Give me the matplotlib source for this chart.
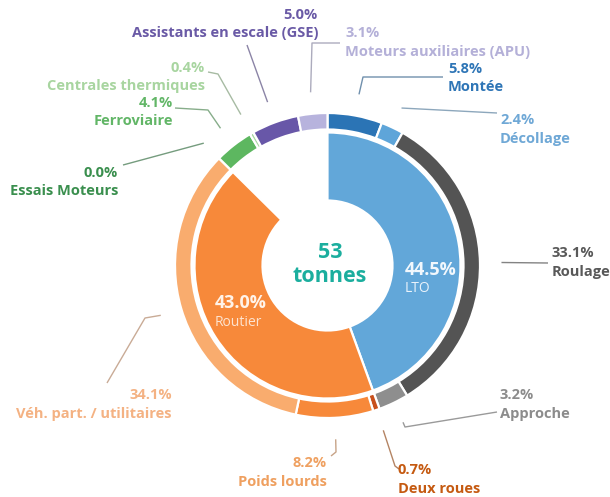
import matplotlib
matplotlib.use("Agg")
import matplotlib.pyplot as plt
import matplotlib.colors as mcolors
import numpy as np

# ---------------- data ----------------
inner_labels = ["LTO", "Routier", ""]
inner_values = [44.5, 43.0, 12.6]

outer_labels = ["Montée", "Décollage", "Roulage", "Approche",
                "Deux roues", "Poids lourds", "Véh. part. / utilitaires",
                "Essais Moteurs", "Ferroviaire", "Centrales thermiques",
                "Assistants en escale (GSE)", "Moteurs auxiliaires (APU)"]
outer_values = [5.8, 2.4, 33.1, 3.2, 0.7, 8.2, 34.1, 0.0, 4.1, 0.4, 5.0, 3.1]
total_text = ["53", "tonnes"]

# ---------------- styles ----------------
inner_colors = ["#62A7D9", "#F7893A", "none"]
outer_colors = ["#2B74B5", "#5EA5D9", "#545454", "#8E8E8E", "#C8501C", "#F7893A",
                "#F9AC6E", "#2E8B45", "#5DB760", "#A9D9A3", "#6857A8", "#B7B3DD"]
label_colors = ["#2E75B6", "#6FA8D6", "#595959", "#8C8C8C", "#C55A11", "#EFA060",
                "#F4B283", "#3A8F4E", "#62B667", "#A8D5A0", "#6A5AA6", "#B4B0D8"]

W, H = 610, 497
FONT = ["Open Sans", "DejaVu Sans"]
plt.rcParams["font.family"] = FONT

fig = plt.figure(figsize=(W / 100, H / 100), dpi=100)
ax = fig.add_axes([0, 0, 1, 1])
ax.set_xlim(0, W)
ax.set_ylim(0, H)
ax.set_aspect("equal")
ax.axis("off")


def P(x, y):
    return (x, H - y)


def blend(c, g="#A6A6A6", t=0.45):
    a = np.array(mcolors.to_rgb(c))
    b = np.array(mcolors.to_rgb(g))
    return tuple(a * t + b * (1 - t))


cx, cy = P(327.5, 265.5)
R_out = 152.5
w_out = 16.5
R_in = 133
w_in = 68

wo, _ = ax.pie(outer_values, colors=outer_colors, startangle=90, counterclock=False,
               radius=R_out, center=(cx, cy),
               wedgeprops=dict(width=w_out, edgecolor="white", linewidth=1.6))
wi, _ = ax.pie(inner_values, colors=inner_colors, startangle=90, counterclock=False,
               radius=R_in, center=(cx, cy),
               wedgeprops=dict(width=w_in, edgecolor="white", linewidth=1.6))
wi[2].set_edgecolor("none")
ax.set_xlim(0, W)
ax.set_ylim(0, H)

# leader layout: (elbow points in px, label anchor x, pct y, name y, ha)
layout = [
    ([(363, 77), (443, 77)], 448, 69, 87, "left"),          # Montée
    ([(497, 113)], 500, 120, 139, "left"),                  # Décollage
    ([(548, 263)], 552, 253, 272, "left"),                  # Roulage
    ([(405, 427), (497, 412)], 500, 395, 414, "left"),      # Approche
    ([(395, 466), (399, 469)], 398, 470, 489, "left"),      # Deux roues
    ([(336, 452), (331, 456)], 327, 463, 482, "right"),     # Poids lourds
    ([(145, 318), (107, 383)], 172, 395, 414, "right"),     # VP
    ([(123, 165)], 118, 173, 191, "right"),                 # Essais
    ([(208, 110), (175, 108)], 173, 103, 121, "right"),     # Ferroviaire
    ([(218, 74), (208, 72)], 205, 68, 86, "right"),         # Centrales
    ([(247, 45)], 318, 15, 33, "right"),                    # GSE
    ([(312, 43), (340, 43)], 345, 33, 52, "left"),          # APU
]

r_lead = 174
for w, lab, val, col, (pts, lx, py, ny, ha) in zip(wo, outer_labels, outer_values,
                                                  label_colors, layout):
    ang = np.deg2rad((w.theta1 + w.theta2) / 2)
    sx, sy = cx + r_lead * np.cos(ang), cy + r_lead * np.sin(ang)
    xs = [sx] + [P(*p)[0] for p in pts]
    ys = [sy] + [P(*p)[1] for p in pts]
    ax.plot(xs, ys, color=blend(col), lw=1.0, solid_capstyle="butt")
    ax.text(*P(lx, py), f"{val:.1f}%", color=col, fontsize=10.5, fontweight="bold",
            ha=ha, va="center")
    ax.text(*P(lx, ny), lab, color=col, fontsize=10.5, fontweight="bold",
            ha=ha, va="center")

# inner labels
ax.text(*P(405, 270), f"{inner_values[0]:.1f}%", color="#F2F8FD", fontsize=13,
        fontweight="bold", ha="left", va="center")
ax.text(*P(405, 289), inner_labels[0], color="#EAF3FB", fontsize=10,
        ha="left", va="center")
ax.text(*P(215, 303), f"{inner_values[1]:.1f}%", color="#FFF3E9", fontsize=13,
        fontweight="bold", ha="left", va="center")
ax.text(*P(215, 322), inner_labels[1], color="#FDE3CF", fontsize=10,
        ha="left", va="center")

# center total
ax.text(*P(330, 252), total_text[0], color="#1BAE9E", fontsize=15.5,
        fontweight="bold", ha="center", va="center")
ax.text(*P(330, 277), total_text[1], color="#1BAE9E", fontsize=15.5,
        fontweight="bold", ha="center", va="center")

fig.savefig("out.png", dpi=100, facecolor="white")
